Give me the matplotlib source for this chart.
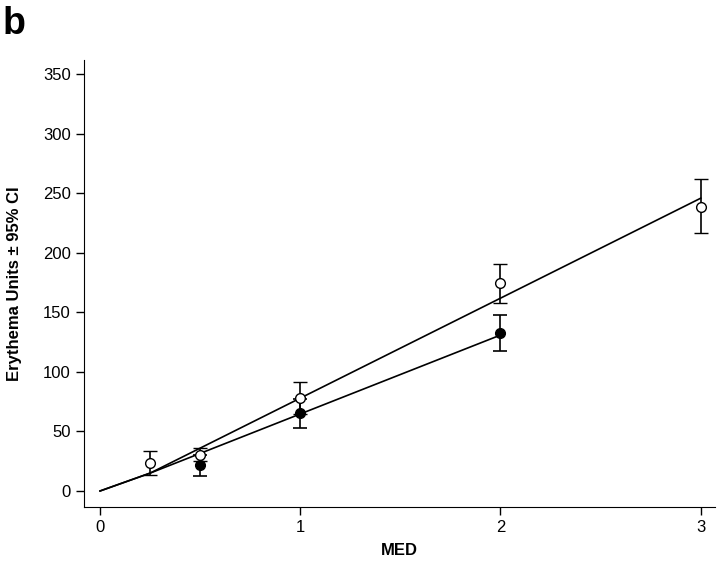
import numpy as np
import matplotlib
matplotlib.use("Agg")
import matplotlib.pyplot as plt

plt.rcParams['font.family'] = ['Liberation Sans', 'DejaVu Sans']

# open circles
open_x = [0.25, 0.5, 1, 2, 3]
open_y = [23.5, 30, 78, 174.5, 239]
open_lo = [13.5, 25, 65, 158, 217]
open_hi = [33.5, 36, 91.5, 191, 262]
open_fit_x = [0, 0.25, 3]
open_fit_y = [0, 15, 246]

# filled circles
filled_x = [0.5, 1, 2]
filled_y = [22, 65.5, 132.5]
filled_lo = [12.5, 53, 118]
filled_hi = [30, 77, 148]
filled_fit_x = [0, 0.25, 2]
filled_fit_y = [0, 15, 131]

xticks = [0, 1, 2, 3]
yticks = [0, 50, 100, 150, 200, 250, 300, 350]

fig = plt.figure(figsize=(7.2, 5.62), dpi=100)
ax = fig.add_axes([0.1167, 0.098, 0.876, 0.795])

ax.plot(open_fit_x, open_fit_y, color='black', lw=1.2, zorder=2)
ax.plot(filled_fit_x, filled_fit_y, color='black', lw=1.2, zorder=2)

oy = np.array(open_y)
ax.errorbar(open_x, open_y, yerr=[oy - np.array(open_lo), np.array(open_hi) - oy],
            fmt='o', mfc='white', mec='black', ecolor='black', ms=7, mew=1.0,
            elinewidth=1.2, capsize=5, capthick=1.2, zorder=3)
fy = np.array(filled_y)
ax.errorbar(filled_x, filled_y, yerr=[fy - np.array(filled_lo), np.array(filled_hi) - fy],
            fmt='o', mfc='black', mec='black', ecolor='black', ms=7,
            elinewidth=1.2, capsize=5, capthick=1.2, zorder=3)

ax.set_xlim(-0.08, 3.07)
ax.set_ylim(-13.4, 362)
ax.set_xticks(xticks)
ax.set_yticks(yticks)
ax.tick_params(labelsize=12, length=6, width=1)
ax.spines['top'].set_visible(False)
ax.spines['right'].set_visible(False)
ax.set_xlabel('MED', fontsize=12, fontweight='bold', labelpad=6)
ax.set_ylabel('Erythema Units ± 95% CI', fontsize=12, fontweight='bold', labelpad=15)

fig.text(0.004, 0.99, 'b', fontsize=27, fontweight='bold', va='top', ha='left')

fig.savefig('out.png', dpi=100)
